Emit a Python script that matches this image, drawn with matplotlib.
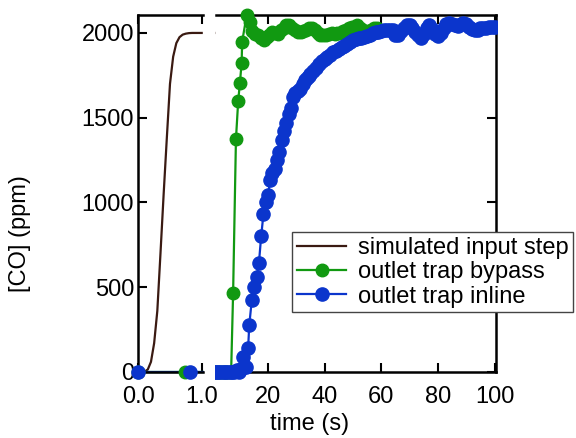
import matplotlib
matplotlib.use("Agg")
import matplotlib.pyplot as plt
from matplotlib.lines import Line2D
from matplotlib.transforms import Bbox, TransformedBbox

plt.rcParams['font.family'] = ['Liberation Sans', 'DejaVu Sans']

# --- simulated input step (left panel, 0-1 s) ---
step_t = [0.0, 0.05, 0.1, 0.15, 0.2, 0.25, 0.3, 0.35, 0.4, 0.45, 0.5,
          0.55, 0.6, 0.65, 0.7, 0.75, 0.8, 0.85, 0.9, 0.95, 1.0]
step_co = [0, 0, 2, 15, 60, 170, 360, 700, 1050, 1380, 1700,
           1860, 1940, 1975, 1990, 1996, 1999, 2000, 2000, 2000, 2000]

# --- outlet trap bypass ---
bypass_t = [0.0, 0.74, 1.5, 2.3, 3.0, 3.8, 4.5, 5.3, 6.0, 7.0, 7.7,
            8.7, 9.5, 10.1, 10.7, 10.9, 12.5, 13.7,
            14.5, 15.5, 16.5, 17.5, 18.5, 19.5, 20.5, 21.5, 22.5, 23.5,
            24.5, 25.5, 26.5, 27.5, 28.5, 29.5, 30.5, 31.5, 32.5, 33.5,
            34.5, 35.5, 36.5, 37.5, 38.5, 39.5, 40.5, 41.5, 42.5, 43.5,
            44.5, 45.5, 46.5, 47.5, 48.5, 49.5, 50.5, 51.5, 52.5, 53.5,
            54.5, 55.5, 56.5, 57.5, 58.5]
bypass_co = [0, 0, 0, 0, 0, 0, 0, 0, 0, 0, 466,
             1373, 1600, 1705, 1822, 1949, 2106, 2067,
             2010, 1995, 1985, 1970, 1960, 1975, 1990, 2005, 2000, 1995,
             2015, 2030, 2045, 2048, 2030, 2015, 2005, 2008, 2010, 2020,
             2030, 2028, 2015, 2000, 1990, 1985, 1988, 1995, 2000, 1995,
             1998, 2002, 2010, 2020, 2032, 2038, 2035, 2045, 2030, 2015,
             2008, 2010, 2020, 2028, 2030]

# --- outlet trap inline ---
inline_t = [0.0, 0.81, 1.6, 2.4, 3.2, 4.1, 4.9, 5.7, 6.5, 7.3, 8.1, 8.9,
            9.8, 10.6, 11.2, 12.2, 13.0, 13.4, 14.3, 15.1, 16.0, 16.8,
            17.6, 18.4, 19.2, 20.0, 20.8, 21.6, 22.4, 23.2, 24.0, 24.9,
            25.7, 26.5, 27.3, 28.1, 28.9, 29.7, 30.5, 31.4, 32.2, 33.0,
            33.8, 34.6,
            35, 36, 37, 38, 39, 40, 41, 42, 43, 44, 45, 46, 47, 48, 49,
            50, 51, 52, 53, 54, 55, 56, 57, 58, 59, 60, 61, 62, 63, 64,
            65, 66, 67, 68, 69, 70, 71, 72, 73, 74, 75, 76, 77, 78, 79,
            80, 81, 82, 83, 84, 85, 86, 87, 88, 89, 90, 91, 92, 93, 94,
            95, 96, 97, 98, 99, 100]
inline_co = [0, 0, 0, 0, 0, 0, 0, 0, 0, 0, 0, 10,
             0, 20, 88, 30, 140, 277, 425, 500, 560, 640,
             800, 930, 1000, 1045, 1130, 1175, 1200, 1250, 1300, 1370,
             1420, 1470, 1520, 1560, 1620, 1645, 1660, 1670, 1700, 1720,
             1735, 1745,
             1755, 1775, 1795, 1815, 1835, 1845, 1860, 1870, 1885, 1895,
             1905, 1915, 1925, 1935, 1945,
             1958, 1965, 1968, 1972, 1976, 1980, 1990, 1998, 2005, 2008,
             2010, 2015, 2018, 2020, 2018,
             1985, 1990, 2010, 2030, 2045, 2047, 2030, 2005, 1985, 1972,
             1995, 2030, 2047, 2025, 1995,
             1980, 2000, 2030, 2050, 2057, 2055, 2045, 2040, 2050, 2057,
             2050, 2035, 2025, 2018, 2020,
             2028, 2032, 2030, 2035, 2038, 2035]

yticks = [0, 500, 1000, 1500, 2000]

brown = '#3a1a12'
green = '#119911'
blue = '#0b35cc'
fs = 17

fig = plt.figure(figsize=(5.76, 4.38), dpi=100)
ax1 = fig.add_axes([0.2401, 0.1507, 0.1128, 0.8151])
ax2 = fig.add_axes([0.375, 0.1507, 0.4861, 0.8151])

# clip each panel only at its inner (break) side, let markers spill elsewhere
clip_boxes = {ax1: Bbox([[-0.3, -0.1], [1.005, 1.1]]),
              ax2: Bbox([[-0.005, -0.1], [1.005, 1.1]])}

for ax in (ax1, ax2):
    clip = TransformedBbox(clip_boxes[ax], ax.transAxes)
    lines = []
    lines += ax.plot(step_t, step_co, color=brown, lw=1.6)
    # connecting lines sit under the spines, markers on top of them
    lines += ax.plot(bypass_t, bypass_co, color=green, lw=1.6, zorder=2)
    lines += ax.plot(inline_t, inline_co, color=blue, lw=1.6, zorder=2.1)
    lines += ax.plot(bypass_t, bypass_co, ls='none', marker='o', ms=9,
                     color=green, zorder=3)
    lines += ax.plot(inline_t, inline_co, ls='none', marker='o', ms=9.5,
                     color=blue, zorder=3.1)
    for ln in lines:
        ln.set_clip_box(clip)
    ax.set_ylim(0, 2106)
    ax.set_yticks(yticks)
    for s in ax.spines.values():
        s.set_linewidth(1.8)
    ax.tick_params(direction='in', length=6.5, width=1.5, labelsize=fs,
                   top=True)
    ax.tick_params(axis='x', pad=10)
    ax.tick_params(axis='y', pad=3)

ax1.set_xlim(0, 1.025)
ax1.set_xticks([0.0, 1.0])
ax1.set_xticklabels(['0.0', '1.0'])
ax1.spines['right'].set_visible(False)
ax1.tick_params(right=False)

ax2.set_xlim(1.66, 100.5)
ax2.set_xticks([20, 40, 60, 80, 100])
ax2.spines['left'].set_visible(False)
ax2.tick_params(axis='y', left=False, labelleft=False, right=True)

fig.text(0.538, 0.032, 'time (s)', ha='center', va='center', fontsize=fs)
fig.text(0.035, 0.466, '[CO] (ppm)', ha='center', va='center',
         rotation=90, fontsize=fs)

handles = [
    Line2D([], [], color=brown, lw=1.6),
    Line2D([], [], color=green, lw=1.6, marker='o', ms=9),
    Line2D([], [], color=blue, lw=1.6, marker='o', ms=9.5),
]
labels = ['simulated input step', 'outlet trap bypass', 'outlet trap inline']
leg = fig.legend(handles, labels, loc='upper left',
                 bbox_to_anchor=(0.507, 0.470), fontsize=fs,
                 fancybox=False, framealpha=1, edgecolor='#444444',
                 handlelength=2.1, handletextpad=0.5, labelspacing=0.1,
                 borderpad=0.2, borderaxespad=0)
leg.get_frame().set_linewidth(1.0)

fig.savefig('out.png', dpi=100)
